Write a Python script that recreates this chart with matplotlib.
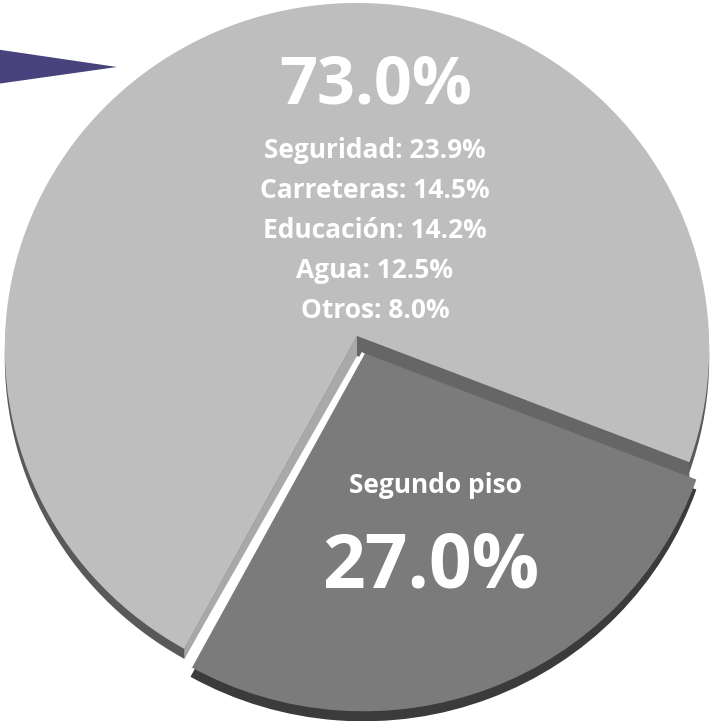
"""Pie chart: share of budget, tilted 3D look with exploded slice (headless)."""

import matplotlib

matplotlib.use("Agg")
import matplotlib.pyplot as plt  # noqa: E402
import matplotlib.transforms as mtransforms  # noqa: E402
import numpy as np  # noqa: E402
from matplotlib.patches import Polygon  # noqa: E402

# data
slices = ["Resto", "Segundo piso"]
shares = [73.0, 27.0]
breakdown_labels = ["Seguridad", "Carreteras", "Educación", "Agua", "Otros"]
breakdown_values = [23.9, 14.5, 14.2, 12.5, 8.0]

W, H = 711, 721
face_colors = ["#bebebe", "#7b7b7b"]
rim_colors = ["#595959", "#3b3b3b"]
edge_wall_right = "#666666"
edge_wall_left = "#a9a9a9"
origin = (357, H - 336)      # pixel position of the pie centre
depth = 10                   # rim thickness
wall = 20                    # visible radial wall height
explode = [0, 0.052]
start = -21.2


class Tilt(mtransforms.Transform):
    """Homography that makes the unit disc look tilted away from the viewer."""
    input_dims = output_dims = 2

    def __init__(self, a=352.0, b=344.7, k=0.035):
        super().__init__()
        self.a, self.b, self.k = a, b, k

    def transform_non_affine(self, values):
        xy = np.asarray(values, dtype=float)
        d = 1 + self.k * xy[:, 1]
        return np.column_stack([self.a * xy[:, 0] / d, self.b * xy[:, 1] / d])


plt.rcParams["font.family"] = ["Open Sans", "DejaVu Sans"]

fig = plt.figure(figsize=(W / 100, H / 100), dpi=100)
ax = fig.add_axes([0, 0, 1, 1])
tilt = Tilt()


def to_data(dy=0):
    return tilt + mtransforms.Affine2D().translate(origin[0], origin[1] - dy)


# rim (side walls): same pie shifted down
rims, _ = ax.pie(shares, colors=rim_colors, startangle=start, explode=explode,
                 radius=1, wedgeprops=dict(linewidth=0))
wedges, _ = ax.pie(shares, colors=face_colors, startangle=start, explode=explode,
                   radius=1, wedgeprops=dict(linewidth=0))
ax.set_xlim(0, W)
ax.set_ylim(0, H)
ax.set_aspect("equal")
ax.axis("off")

for w in rims:
    w.set_transform(to_data(depth) + ax.transData)
    w.set_zorder(1)
for w in wedges:
    w.set_transform(to_data() + ax.transData)
    w.set_zorder(3)


def edge_points(w, theta):
    t = np.deg2rad(theta)
    cx, cy = w.center
    pts = np.array([[cx, cy], [cx + w.r * np.cos(t), cy + w.r * np.sin(t)]])
    return to_data().transform(pts)


# radial walls of the big slice, visible through the gap
light, dark = wedges
for theta, col, outer in [(light.theta1, edge_wall_right, wall),
                          (light.theta2, edge_wall_left, depth)]:
    p = edge_points(light, theta)
    q = [p[1] - [0, outer], p[0] - [0, wall]]
    ax.add_patch(Polygon([p[0], p[1], *q], closed=True, color=col,
                         lw=0, zorder=2))

# white highlight on the left radial edge of the exploded slice
p = edge_points(dark, dark.theta1)
ax.plot(p[:, 0], p[:, 1], color="white", lw=2.5, solid_capstyle="butt", zorder=4)

# decorative arrow at top-left
ax.add_patch(Polygon([(-60, H - 41), (117, H - 67), (-60, H - 92)],
                     closed=True, color="#48437c", lw=0, zorder=5))

ax.text(376, H - 103, f"{shares[0]:.1f}%", color="white", fontsize=48,
        fontweight="bold", ha="center", va="baseline", zorder=6)
for i, (lab, val) in enumerate(zip(breakdown_labels, breakdown_values)):
    ax.text(375, H - 158 - i * 40, f"{lab}: {val:.1f}%", color="white",
            fontsize=19, fontweight="bold", ha="center", va="baseline", zorder=6)

ax.text(435, H - 493, slices[1], color="white", fontsize=19,
        fontweight="bold", ha="center", va="baseline", zorder=6)
ax.text(431, H - 587, f"{shares[1]:.1f}%", color="white", fontsize=54,
        fontweight="bold", ha="center", va="baseline", zorder=6)

fig.savefig("out.png", dpi=100)
